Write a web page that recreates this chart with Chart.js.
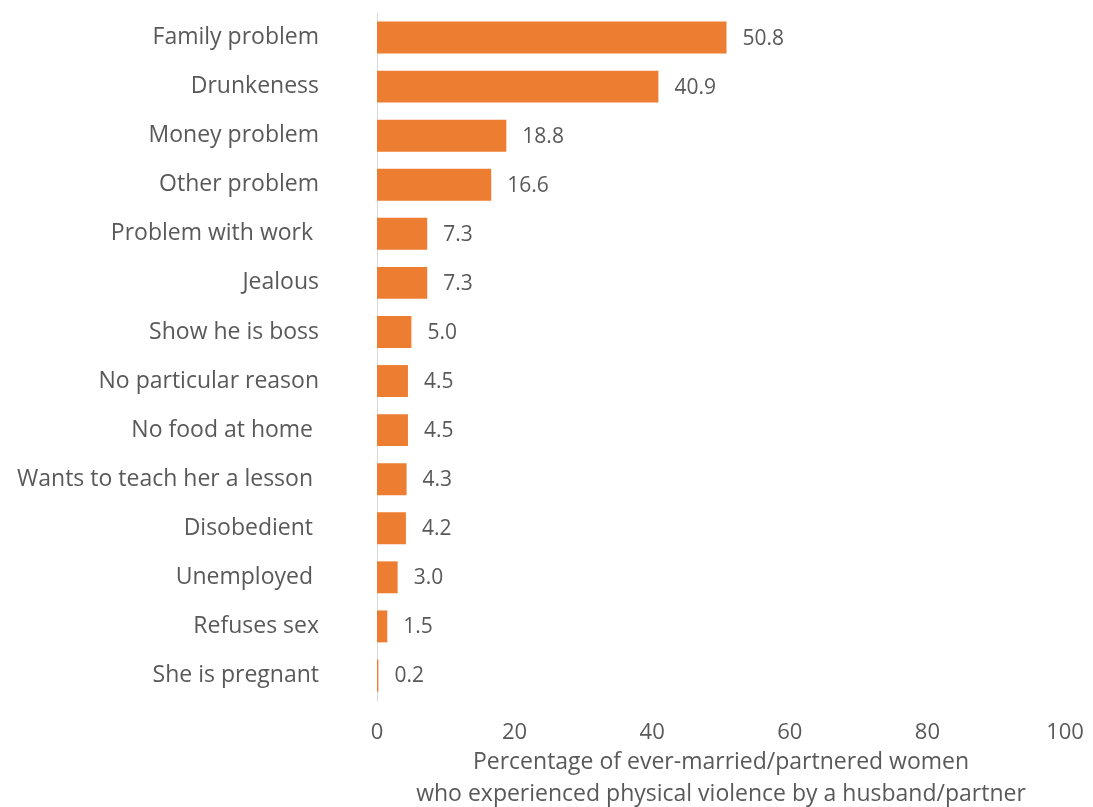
<!DOCTYPE html>
<html>
<head>
<meta charset="utf-8">
<script src="https://cdn.jsdelivr.net/npm/chart.js@4"></script>
<style>
  html, body { margin: 0; padding: 0; background: #fff; }
  #wrap { width: 1093px; height: 807px; }
</style>
</head>
<body>
<div id="wrap"><canvas id="reasonsChart"></canvas></div>
<script>
// Reasons given, top to bottom
const reasons = [
    'Family problem', 'Drunkeness', 'Money problem', 'Other problem',
    'Problem with work ', 'Jealous', 'Show he is boss', 'No particular reason',
    'No food at home ', 'Wants to teach her a lesson ', 'Disobedient ',
    'Unemployed ', 'Refuses sex', 'She is pregnant'
];
const percentages = [50.8, 40.9, 18.8, 16.6, 7.3, 7.3, 5.0, 4.5, 4.5, 4.3, 4.2, 3.0, 1.5, 0.2];
const xTicks = [0, 20, 40, 60, 80, 100];
const xTitle = ['Percentage of ever-married/partnered women', 'who experienced physical violence by a husband/partner'];

const textColor = '#595959';
const fontFamily = '"Open Sans", "DejaVu Sans", sans-serif';

// writes the value just past the end of each bar
const valueLabels = {
    id: 'valueLabels',
    afterDatasetsDraw(chart) {
        const ctx = chart.ctx;
        const meta = chart.getDatasetMeta(0);
        ctx.save();
        ctx.font = '21px ' + fontFamily;
        ctx.fillStyle = textColor;
        ctx.textAlign = 'left';
        ctx.textBaseline = 'middle';
        meta.data.forEach((bar, i) => {
            ctx.fillText(percentages[i].toFixed(1), bar.x + 16, bar.y + 1);
        });
        ctx.restore();
    }
};

new Chart(document.getElementById('reasonsChart'), {
    type: 'bar',
    data: {
        labels: reasons,
        datasets: [{
            data: percentages,
            backgroundColor: '#ED7D31',
            borderWidth: 0,
            barPercentage: 0.65,
            categoryPercentage: 1
        }]
    },
    options: {
        indexAxis: 'y',
        responsive: true,
        maintainAspectRatio: false,
        animation: false,
        layout: { padding: { top: 13, right: 28, bottom: 0, left: 0 } },
        plugins: {
            legend: { display: false },
            tooltip: { enabled: false }
        },
        scales: {
            x: {
                min: 0,
                max: 100,
                afterBuildTicks: scale => {
                    scale.ticks = xTicks.map(v => ({ value: v }));
                },
                afterFit: scale => {
                    scale.height = 107;
                    scale.paddingLeft = 0;
                    scale.paddingRight = 0;
                },
                grid: { display: false, drawTicks: false },
                border: { display: false },
                ticks: {
                    color: textColor,
                    font: { family: fontFamily, size: 22 },
                    padding: 20,
                    maxRotation: 0
                },
                title: {
                    display: true,
                    text: xTitle,
                    color: textColor,
                    font: { family: fontFamily, size: 23, lineHeight: '32px' },
                    padding: { top: 0, bottom: -3 }
                }
            },
            y: {
                afterFit: scale => {
                    scale.width = 377;
                    scale.paddingTop = 0;
                    scale.paddingBottom = 0;
                },
                grid: { display: false, drawTicks: false },
                border: { display: true, color: '#D9D9D9', width: 1 },
                ticks: {
                    color: textColor,
                    font: { family: fontFamily, size: 23 },
                    padding: 58,
                    autoSkip: false
                }
            }
        }
    },
    plugins: [valueLabels]
});
</script>
</body>
</html>
